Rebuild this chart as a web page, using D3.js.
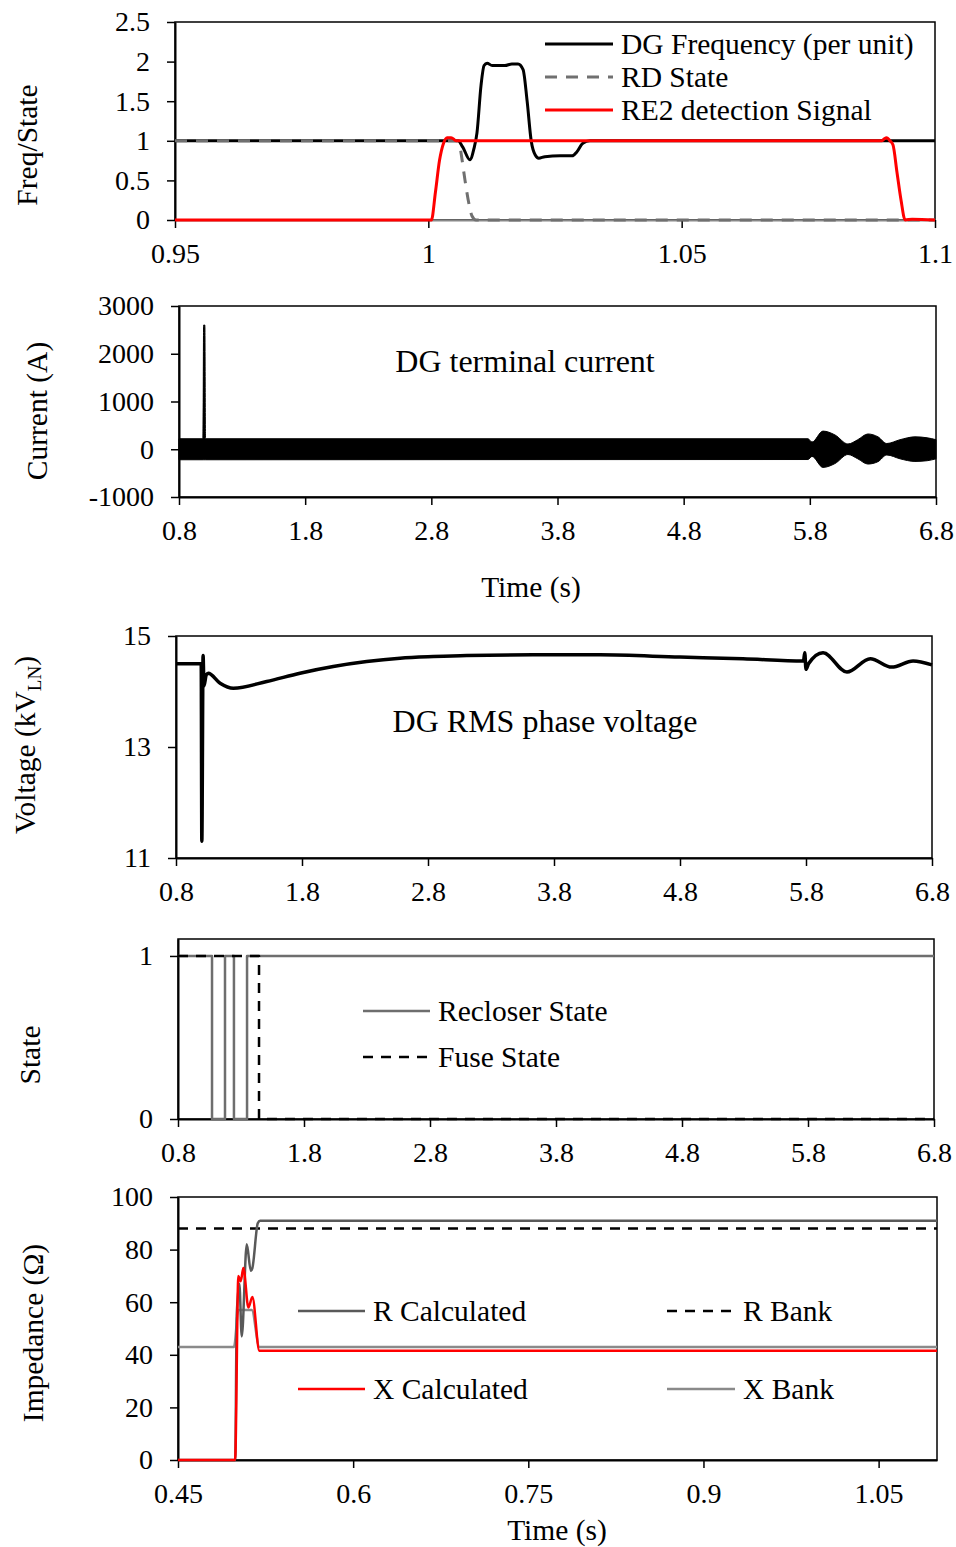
<!DOCTYPE html>
<html>
<head>
<meta charset="utf-8">
<script src="https://cdn.jsdelivr.net/npm/d3@7"></script>
<style>
  body { margin: 0; background: #fff; }
  svg { display: block; }
  text { font-family: "Liberation Serif", "Times New Roman", serif; fill: #000; }
</style>
</head>
<body>
<svg id="chart" width="956" height="1547"></svg>
<script>
// ---------- Panel 1: frequency / states around the event ----------
const freqT  = [0.95, 1.00585, 1.0068, 1.0082, 1.009, 1.0096, 1.0104, 1.011, 1.0116, 1.0126, 1.0151, 1.0165, 1.0177, 1.0187, 1.0195, 1.0203, 1.0211, 1.0218, 1.023, 1.026, 1.0284, 1.0293, 1.0305, 1.0319, 1.1];
const freqV  = [1.0, 1.0, 0.92, 0.76, 0.9, 1.1, 1.7, 1.95, 1.98, 1.95, 1.95, 1.97, 1.97, 1.9, 1.5, 1.0, 0.82, 0.78, 0.8, 0.81, 0.81, 0.86, 0.97, 1.0, 1.0];
const rdT    = [0.95, 1.00605, 1.00645, 1.00724, 1.00803, 1.00862, 1.00941, 1.1];
const rdV    = [1, 1, 0.85, 0.5, 0.2, 0.05, 0, 0];
const re2T   = [0.95, 1.0, 1.0006, 1.0014, 1.0022, 1.003, 1.0037, 1.0045, 1.0055, 1.0895, 1.0899, 1.0905, 1.0911, 1.0917, 1.0925, 1.0933, 1.0941, 1.0955, 1.1];
const re2V   = [0, 0, 0, 0.35, 0.75, 0.97, 1.04, 1.04, 1.0, 1.0, 1.02, 1.04, 1.0, 0.95, 0.6, 0.25, 0, 0.01, 0];
const p1XTicks = [0.95, 1, 1.05, 1.1];
const p1XLabels = ["0.95", "1", "1.05", "1.1"];
const p1YTicks = [0, 0.5, 1, 1.5, 2, 2.5];
const p1YLabels = ["0", "0.5", "1", "1.5", "2", "2.5"];

// ---------- Panel 2: DG terminal current (waveform envelope) ----------
const curT  = [0.8, 0.99, 0.995, 1.005, 1.01, 5.785, 5.817, 5.904, 5.999, 6.102, 6.18, 6.26, 6.34, 6.41, 6.515, 6.633, 6.73, 6.8];
const curHi = [220, 220, 2600, 2600, 220, 220, 150, 380, 300, 110, 200, 320, 260, 120, 200, 260, 240, 200];
const curLo = [-220, -220, -220, -220, -220, -215, -150, -380, -300, -110, -200, -310, -260, -120, -200, -255, -240, -200];
const timeTicks = [0.8, 1.8, 2.8, 3.8, 4.8, 5.8, 6.8];
const timeLabels = ["0.8", "1.8", "2.8", "3.8", "4.8", "5.8", "6.8"];
const p2YTicks = [-1000, 0, 1000, 2000, 3000];
const p2YLabels = ["-1000", "0", "1000", "2000", "3000"];

// ---------- Panel 3: DG RMS phase voltage ----------
const voltT = [0.8, 1.0, 1.005, 1.015, 1.022, 1.04, 1.056, 1.15, 1.255, 1.52, 1.784, 2.048, 2.313, 2.578, 2.842, 3.107, 3.633, 4.165, 4.8, 5.3, 5.78, 5.79, 5.80, 5.82, 5.935, 6.125, 6.31, 6.48, 6.65, 6.8];
const voltV = [14.5, 14.5, 11.3, 14.65, 14.1, 14.3, 14.33, 14.15, 14.06, 14.18, 14.33, 14.45, 14.54, 14.6, 14.63, 14.65, 14.66, 14.66, 14.62, 14.59, 14.55, 14.7, 14.4, 14.5, 14.7, 14.35, 14.59, 14.44, 14.55, 14.48];
const p3YTicks = [11, 13, 15];
const p3YLabels = ["11", "13", "15"];

// ---------- Panel 4: recloser and fuse states ----------
const recloserT = [0.8, 1.07, 1.173, 1.244, 1.348, 6.8];
const recloserV = [1, 0, 1, 0, 1, 1];
const fuseT = [0.8, 1.443, 6.8];
const fuseV = [1, 0, 0];
const p4YTicks = [0, 1];
const p4YLabels = ["0", "1"];

// ---------- Panel 5: impedance ----------
const rCalcT = [0.45, 0.499, 0.5003, 0.50254, 0.5046, 0.5089, 0.5123, 0.5137, 0.5183, 0.5203, 1.1];
const rCalcV = [0, 0, 55, 67, 47, 82, 72, 73, 90, 91, 91];
const xCalcT = [0.45, 0.4989, 0.5017, 0.5037, 0.506, 0.5103, 0.5137, 0.5197, 1.1];
const xCalcV = [0, 0, 70, 68, 73, 58, 62, 41.5, 41.5];
const rBankT = [0.45, 1.1];
const rBankV = [88, 88];
const xBankT = [0.45, 0.498, 0.5017, 0.5132, 0.5197, 1.1];
const xBankV = [43, 43, 57, 57, 43, 43];
const p5XTicks = [0.45, 0.6, 0.75, 0.9, 1.05];
const p5XLabels = ["0.45", "0.6", "0.75", "0.9", "1.05"];
const p5YTicks = [0, 20, 40, 60, 80, 100];
const p5YLabels = ["0", "20", "40", "60", "80", "100"];

const svg = d3.select("#chart");
const FS = 28;      // tick labels
const FS_T = 29.5;  // axis titles and legends
const FS_A = 32;    // in-plot annotations
const zip = (a, b) => a.map((v, i) => [v, b[i]]);

function panel(c) {
  const x = d3.scaleLinear().domain(c.xd).range([c.l, c.r]);
  const y = d3.scaleLinear().domain(c.yd).range([c.b, c.t]);
  const g = svg.append("g");
  g.append("rect").attr("x", c.l).attr("y", c.t).attr("width", c.r - c.l).attr("height", c.b - c.t)
    .attr("fill", "none").attr("stroke", "#000").attr("stroke-width", 1.5);
  const xa = g.append("g").attr("transform", `translate(0,${c.b})`)
    .call(d3.axisBottom(x).tickValues(c.xt).tickFormat((d, i) => c.xl[i]).tickSize(8).tickSizeOuter(0).tickPadding(15));
  const ya = g.append("g").attr("transform", `translate(${c.l},0)`)
    .call(d3.axisLeft(y).tickValues(c.yt).tickFormat((d, i) => c.yl[i]).tickSize(8).tickSizeOuter(0).tickPadding(17));
  [xa, ya].forEach(a => {
    a.selectAll("text").style("font-size", FS + "px").style("font-family", '"Liberation Serif", serif').attr("fill", "#000");
    a.selectAll(".tick line").attr("stroke", "#000").attr("stroke-width", 1.5);
    a.select(".domain").attr("stroke", "#000").attr("stroke-width", 2);
  });
  if (c.xDomainColor) xa.select(".domain").attr("stroke", c.xDomainColor);
  const tg = g.append("text").attr("transform", `translate(${c.titleX},${c.titleY}) rotate(-90)`)
    .attr("text-anchor", "middle").attr("dy", "0.35em").style("font-size", FS_T + "px");
  if (c.titleParts) {
    c.titleParts.forEach(p => {
      const ts = tg.append("tspan").text(p.t);
      if (p.sub) ts.style("font-size", "19px").attr("dy", "6");
      if (p.after) ts.attr("dy", "-6");
    });
  } else tg.text(c.title);
  const plot = g.append("g");
  return { x, y, g: plot };
}

function line(p, pts, color, width, dash, curve) {
  p.g.append("path").datum(pts)
    .attr("d", d3.line().x(d => p.x(d[0])).y(d => p.y(d[1])).curve(curve || d3.curveLinear))
    .attr("fill", "none").attr("stroke", color).attr("stroke-width", width)
    .attr("stroke-dasharray", dash || null).attr("stroke-linejoin", "round");
}

function legendItem(x0, x1, y, label, color, width, dash) {
  svg.append("line").attr("x1", x0).attr("x2", x1).attr("y1", y).attr("y2", y)
    .attr("stroke", color).attr("stroke-width", width).attr("stroke-dasharray", dash || null);
  svg.append("text").attr("x", x1 + 8).attr("y", y).attr("dy", "0.35em").style("font-size", FS_T + "px").text(label);
}

function note(x, y, label, size) {
  svg.append("text").attr("x", x).attr("y", y).attr("dy", "0.35em").attr("text-anchor", "middle")
    .style("font-size", size + "px").text(label);
}

// Panel 1
const p1 = panel({ l: 175, r: 935, t: 22, b: 220, xd: [0.95, 1.1], yd: [0, 2.5],
  xt: p1XTicks, xl: p1XLabels, yt: p1YTicks, yl: p1YLabels, title: "Freq/State", titleX: 27, titleY: 145, xDomainColor: "#888" });
line(p1, zip(freqT, freqV), "#000", 3, null, d3.curveMonotoneX);
line(p1, zip(rdT, rdV), "#707070", 3, "12,9", d3.curveMonotoneX);
line(p1, zip(re2T, re2V), "#ff0000", 3, null, d3.curveMonotoneX);
legendItem(545, 613, 44, "DG Frequency (per unit)", "#000", 3);
legendItem(545, 613, 77, "RD State", "#707070", 3, "12,9");
legendItem(545, 613, 110, "RE2 detection Signal", "#ff0000", 3);

// Panel 2
const p2 = panel({ l: 179, r: 936, t: 306, b: 497, xd: [0.8, 6.8], yd: [-1000, 3000],
  xt: timeTicks, xl: timeLabels, yt: p2YTicks, yl: p2YLabels, title: "Current (A)", titleX: 37, titleY: 411 });
p2.g.append("path").datum(curT.map((t, i) => [t, curHi[i], curLo[i]]))
  .attr("d", d3.area().x(d => p2.x(d[0])).y0(d => p2.y(d[2])).y1(d => p2.y(d[1])).curve(d3.curveMonotoneX))
  .attr("fill", "#000").attr("stroke", "#000").attr("stroke-width", 1);
note(525, 361, "DG terminal current", FS_A);
note(531, 587, "Time (s)", FS_T);

// Panel 3
const p3 = panel({ l: 176, r: 932, t: 636, b: 858, xd: [0.8, 6.8], yd: [11, 15],
  xt: timeTicks, xl: timeLabels, yt: p3YTicks, yl: p3YLabels, titleX: 25, titleY: 745,
  titleParts: [{ t: "Voltage (kV" }, { t: "LN", sub: true }, { t: ")", after: true }] });
line(p3, zip(voltT, voltV), "#000", 3.5, null, d3.curveMonotoneX);
note(545, 721, "DG RMS phase voltage", FS_A);

// Panel 4
const p4 = panel({ l: 178, r: 934, t: 939, b: 1119, xd: [0.8, 6.8], yd: [0, 1.104],
  xt: timeTicks, xl: timeLabels, yt: p4YTicks, yl: p4YLabels, title: "State", titleX: 30, titleY: 1055 });
line(p4, zip(recloserT, recloserV), "#6e6e6e", 2.5, null, d3.curveStepAfter);
line(p4, zip(fuseT, fuseV), "#000", 2.5, "10,8", d3.curveStepAfter);
legendItem(363, 430, 1011, "Recloser State", "#6e6e6e", 2.5);
legendItem(363, 430, 1057, "Fuse State", "#000", 2.5, "10,8");

// Panel 5
const p5 = panel({ l: 178, r: 937, t: 1197, b: 1460, xd: [0.45, 1.1], yd: [0, 100],
  xt: p5XTicks, xl: p5XLabels, yt: p5YTicks, yl: p5YLabels, title: "Impedance (Ω)", titleX: 33, titleY: 1333 });
line(p5, zip(rBankT, rBankV), "#000", 2.5, "10,8");
line(p5, zip(xBankT, xBankV), "#8a8a8a", 2.5, null, d3.curveMonotoneX);
line(p5, zip(rCalcT, rCalcV), "#595959", 2.5, null, d3.curveMonotoneX);
line(p5, zip(xCalcT, xCalcV), "#ff0000", 2.5, null, d3.curveMonotoneX);
legendItem(298, 365, 1311, "R Calculated", "#595959", 2.5);
legendItem(298, 365, 1389, "X Calculated", "#ff0000", 2.5);
legendItem(667, 735, 1311, "R Bank", "#000", 2.5, "10,8");
legendItem(667, 735, 1389, "X Bank", "#8a8a8a", 2.5);
note(557, 1530, "Time (s)", FS_T);
</script>
</body>
</html>
